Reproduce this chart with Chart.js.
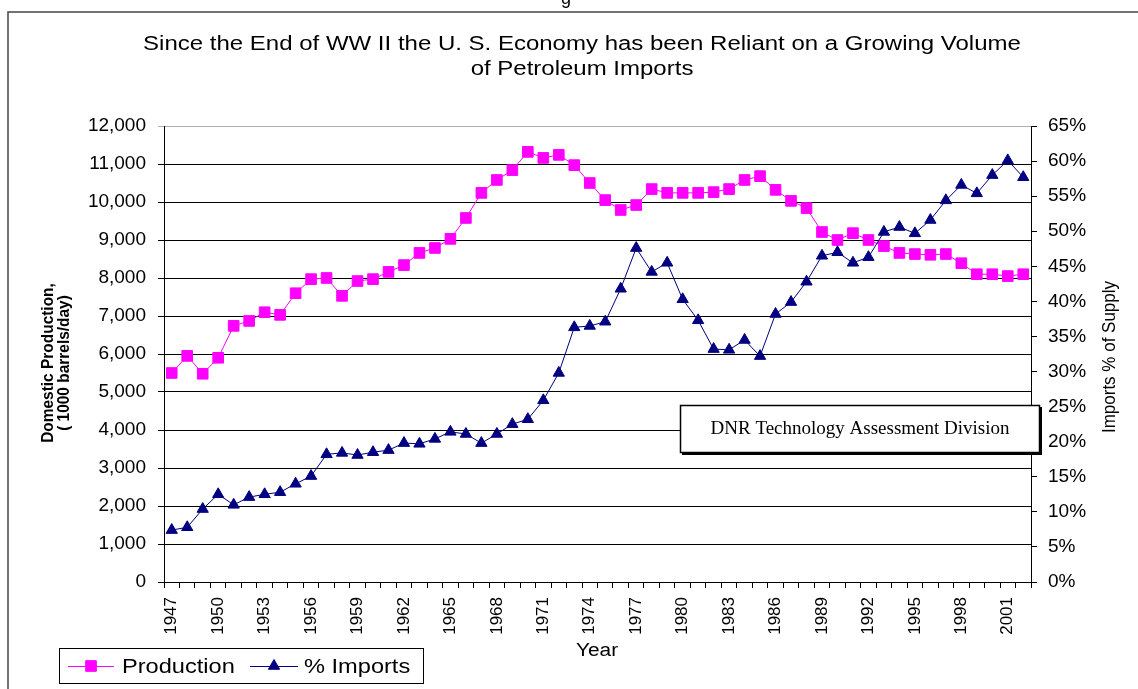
<!DOCTYPE html>
<html>
<head>
<meta charset="utf-8">
<title>U.S. Petroleum Production and Imports</title>
<script src="https://cdn.jsdelivr.net/npm/chart.js@4.4.0/dist/chart.umd.min.js"></script>
<style>
  html, body { margin: 0; padding: 0; background: #fff; }
  #wrap { width: 1138px; height: 689px; }
</style>
</head>
<body>
<div id="wrap"><canvas id="myChart" width="1138" height="689"></canvas></div>
<script>
// Data
const years = ['1947', '1948', '1949', '1950', '1951', '1952', '1953', '1954', '1955', '1956',
  '1957', '1958', '1959', '1960', '1961', '1962', '1963', '1964', '1965', '1966',
  '1967', '1968', '1969', '1970', '1971', '1972', '1973', '1974', '1975', '1976',
  '1977', '1978', '1979', '1980', '1981', '1982', '1983', '1984', '1985', '1986',
  '1987', '1988', '1989', '1990', '1991', '1992', '1993', '1994', '1995', '1996',
  '1997', '1998', '1999', '2000', '2001', '2002'];

// Domestic production, 1000 barrels/day (left axis)
const production = [5500, 5950, 5480, 5900, 6740, 6870, 7100, 7030, 7600, 7970,
  8000, 7530, 7920, 7970, 8160, 8340, 8660, 8790, 9030, 9580,
  10240, 10580, 10840, 11320, 11160, 11240, 10970, 10500, 10050, 9790,
  9920, 10340, 10240, 10240, 10240, 10260, 10340, 10580, 10680, 10320,
  10030, 9840, 9210, 9000, 9180, 9000, 8840, 8660, 8630, 8610,
  8630, 8390, 8100, 8100, 8050, 8100];

// Imports as % of supply (right axis)
const importsPct = [7.4, 7.8, 10.4, 12.5, 11.0, 12.1, 12.5, 12.8, 14.0, 15.1,
  18.2, 18.4, 18.1, 18.5, 18.8, 19.8, 19.7, 20.4, 21.4, 21.1,
  19.8, 21.1, 22.5, 23.2, 25.9, 29.8, 36.3, 36.5, 37.1, 41.8,
  47.6, 44.2, 45.5, 40.3, 37.3, 33.2, 33.1, 34.5, 32.2, 38.2,
  39.9, 42.8, 46.5, 47.0, 45.5, 46.3, 49.9, 50.6, 49.7, 51.6,
  54.4, 56.6, 55.4, 58.0, 60.1, 57.7];

const chartTitle = ['Since the End of WW II the U. S. Economy has been Reliant on a Growing Volume', 'of Petroleum Imports'];
const leftAxisTitle = ['Domestic Production,', '( 1000 barrels/day)'];
const rightAxisTitle = 'Imports % of Supply';
const xAxisTitle = 'Year';
const noteText = 'DNR Technology Assessment Division';
const seriesNames = ['Production', '% Imports'];
const seriesColors = ['#FF00FF', '#000080'];

const SANS = "'Liberation Sans', Arial, sans-serif";
const SERIF = "'Liberation Serif', 'Times New Roman', serif";

// text drawn a little wider than the font, like the original screenshot
function wideText(ctx, text, x, y, sx, sy, angle) {
    ctx.save();
    ctx.translate(x, y);
    if (angle) ctx.rotate(angle);
    ctx.scale(sx, sy);
    ctx.fillText(text, 0, 0);
    ctx.restore();
}

// Frame, titles, note box and legend drawn around the chart
const decorations = {
    id: 'decorations',
    beforeDraw(chart) {
        const ctx = chart.ctx;
        ctx.save();
        ctx.fillStyle = '#fff';
        ctx.fillRect(0, 0, chart.width, chart.height);
        ctx.strokeStyle = '#444';
        ctx.lineWidth = 1.5;
        ctx.strokeRect(8, 12, chart.width + 20, chart.height + 20);
        // cut-off heading fragment above the frame
        ctx.fillStyle = '#000';
        ctx.font = '18px ' + SANS;
        ctx.textAlign = 'center';
        ctx.textBaseline = 'alphabetic';
        ctx.fillText('g', 566, 4);
        ctx.restore();
    },
    afterDraw(chart) {
        const ctx = chart.ctx;
        const area = chart.chartArea;
        ctx.save();
        ctx.fillStyle = '#000';
        ctx.textAlign = 'center';
        ctx.textBaseline = 'middle';

        // main title
        ctx.font = '20px ' + SANS;
        wideText(ctx, chartTitle[0], 582, 44, 1.2, 1);
        wideText(ctx, chartTitle[1], 582, 69, 1.2, 1);

        // x axis title
        ctx.font = '18px ' + SANS;
        wideText(ctx, xAxisTitle, 597, 651, 1.16, 1);

        // left axis title (bold, condensed look)
        const midY = (area.top + area.bottom) / 2 + 9;
        ctx.font = 'bold 15px ' + SANS;
        wideText(ctx, leftAxisTitle[0], 48, midY, 1.03, 1.1, -Math.PI / 2);
        wideText(ctx, leftAxisTitle[1], 64, midY, 1.03, 1.1, -Math.PI / 2);

        // right axis title
        ctx.font = '17px ' + SANS;
        wideText(ctx, rightAxisTitle, 1110, 357, 1, 1.1, -Math.PI / 2);

        // note box
        ctx.fillStyle = '#fff';
        ctx.fillRect(680, 405, 360, 48);
        ctx.strokeStyle = '#000';
        ctx.lineWidth = 1.5;
        ctx.strokeRect(680.5, 405.5, 359, 47);
        ctx.lineWidth = 2;
        ctx.beginPath();
        ctx.moveTo(1041, 407);
        ctx.lineTo(1041, 454);
        ctx.lineTo(682, 454);
        ctx.stroke();
        ctx.fillStyle = '#000';
        ctx.font = '19px ' + SERIF;
        ctx.fillText(noteText, 860, 429);

        // legend
        ctx.fillStyle = '#fff';
        ctx.fillRect(59, 648, 364, 35);
        ctx.strokeStyle = '#000';
        ctx.lineWidth = 1;
        ctx.strokeRect(59.5, 648.5, 364, 35);
        const ly = 666;
        const items = [
            { x0: 68, x1: 114, text: 122, style: 'rect', radius: 7.5 },
            { x0: 250, x1: 298, text: 304, style: 'triangle', radius: 6.5 }
        ];
        items.forEach((it, i) => {
            ctx.strokeStyle = seriesColors[i];
            ctx.lineWidth = 1;
            ctx.beginPath();
            ctx.moveTo(it.x0, ly + 0.5);
            ctx.lineTo(it.x1, ly + 0.5);
            ctx.stroke();
            ctx.fillStyle = seriesColors[i];
            Chart.helpers.drawPoint(ctx, {
                pointStyle: it.style,
                radius: it.radius,
                borderWidth: 1,
                rotation: 0
            }, (it.x0 + it.x1) / 2, ly);
            ctx.fillStyle = '#000';
            ctx.textAlign = 'left';
            ctx.font = '20px ' + SANS;
            wideText(ctx, seriesNames[i], it.text, ly + 1, 1.18, 1);
        });
        ctx.restore();
    }
};

const chartCanvas = document.getElementById('myChart');

new Chart(chartCanvas, {
    type: 'line',
    data: {
        labels: years,
        datasets: [{
            label: seriesNames[0],
            data: production,
            yAxisID: 'y',
            borderColor: seriesColors[0],
            backgroundColor: seriesColors[0],
            borderWidth: 1,
            pointStyle: 'rect',
            pointRadius: 7.5,
            pointBorderWidth: 1,
            pointBackgroundColor: seriesColors[0],
            pointBorderColor: seriesColors[0],
            tension: 0,
            order: 2
        }, {
            label: seriesNames[1],
            data: importsPct,
            yAxisID: 'y1',
            borderColor: seriesColors[1],
            backgroundColor: seriesColors[1],
            borderWidth: 1,
            pointStyle: 'triangle',
            pointRadius: 6.5,
            pointBorderWidth: 1,
            pointBackgroundColor: seriesColors[1],
            pointBorderColor: seriesColors[1],
            tension: 0,
            order: 1
        }]
    },
    options: {
        responsive: false,
        animation: false,
        devicePixelRatio: 1,
        layout: {
            padding: { top: 126, left: 0, right: 0, bottom: 0 }
        },
        plugins: {
            legend: { display: false },
            title: { display: false },
            tooltip: { enabled: false }
        },
        scales: {
            x: {
                type: 'category',
                offset: true,
                grid: {
                    offset: true,
                    drawOnChartArea: false,
                    drawTicks: true,
                    tickLength: 6,
                    color: '#000',
                    lineWidth: 1
                },
                border: { color: '#000', width: 1 },
                ticks: {
                    autoSkip: false,
                    maxRotation: 90,
                    minRotation: 90,
                    padding: 9,
                    color: '#000',
                    font: { family: SANS, size: 17 },
                    callback: (value, index) => index % 3 === 0 ? years[index] : ''
                },
                afterFit: (scale) => { scale.height = 107; }
            },
            y: {
                position: 'left',
                min: 0,
                max: 12000,
                grid: {
                    color: (c) => (c.tick && c.tick.value === 12000) ? '#b0b0b0' : '#000',
                    lineWidth: 1,
                    tickLength: 6
                },
                border: { color: '#000', width: 1 },
                ticks: {
                    stepSize: 1000,
                    padding: 12,
                    color: '#000',
                    font: { family: SANS, size: 19 },
                    callback: (value) => value.toLocaleString('en-US')
                },
                afterFit: (scale) => { scale.width = 164; }
            },
            y1: {
                position: 'right',
                min: 0,
                max: 65,
                grid: {
                    drawOnChartArea: false,
                    color: '#000',
                    lineWidth: 1,
                    tickLength: 6
                },
                border: { color: '#000', width: 1 },
                ticks: {
                    stepSize: 5,
                    padding: 11,
                    color: '#000',
                    font: { family: SANS, size: 19 },
                    callback: (value) => value + '%'
                },
                afterFit: (scale) => { scale.width = 107; }
            }
        }
    },
    plugins: [decorations]
});
</script>
</body>
</html>
